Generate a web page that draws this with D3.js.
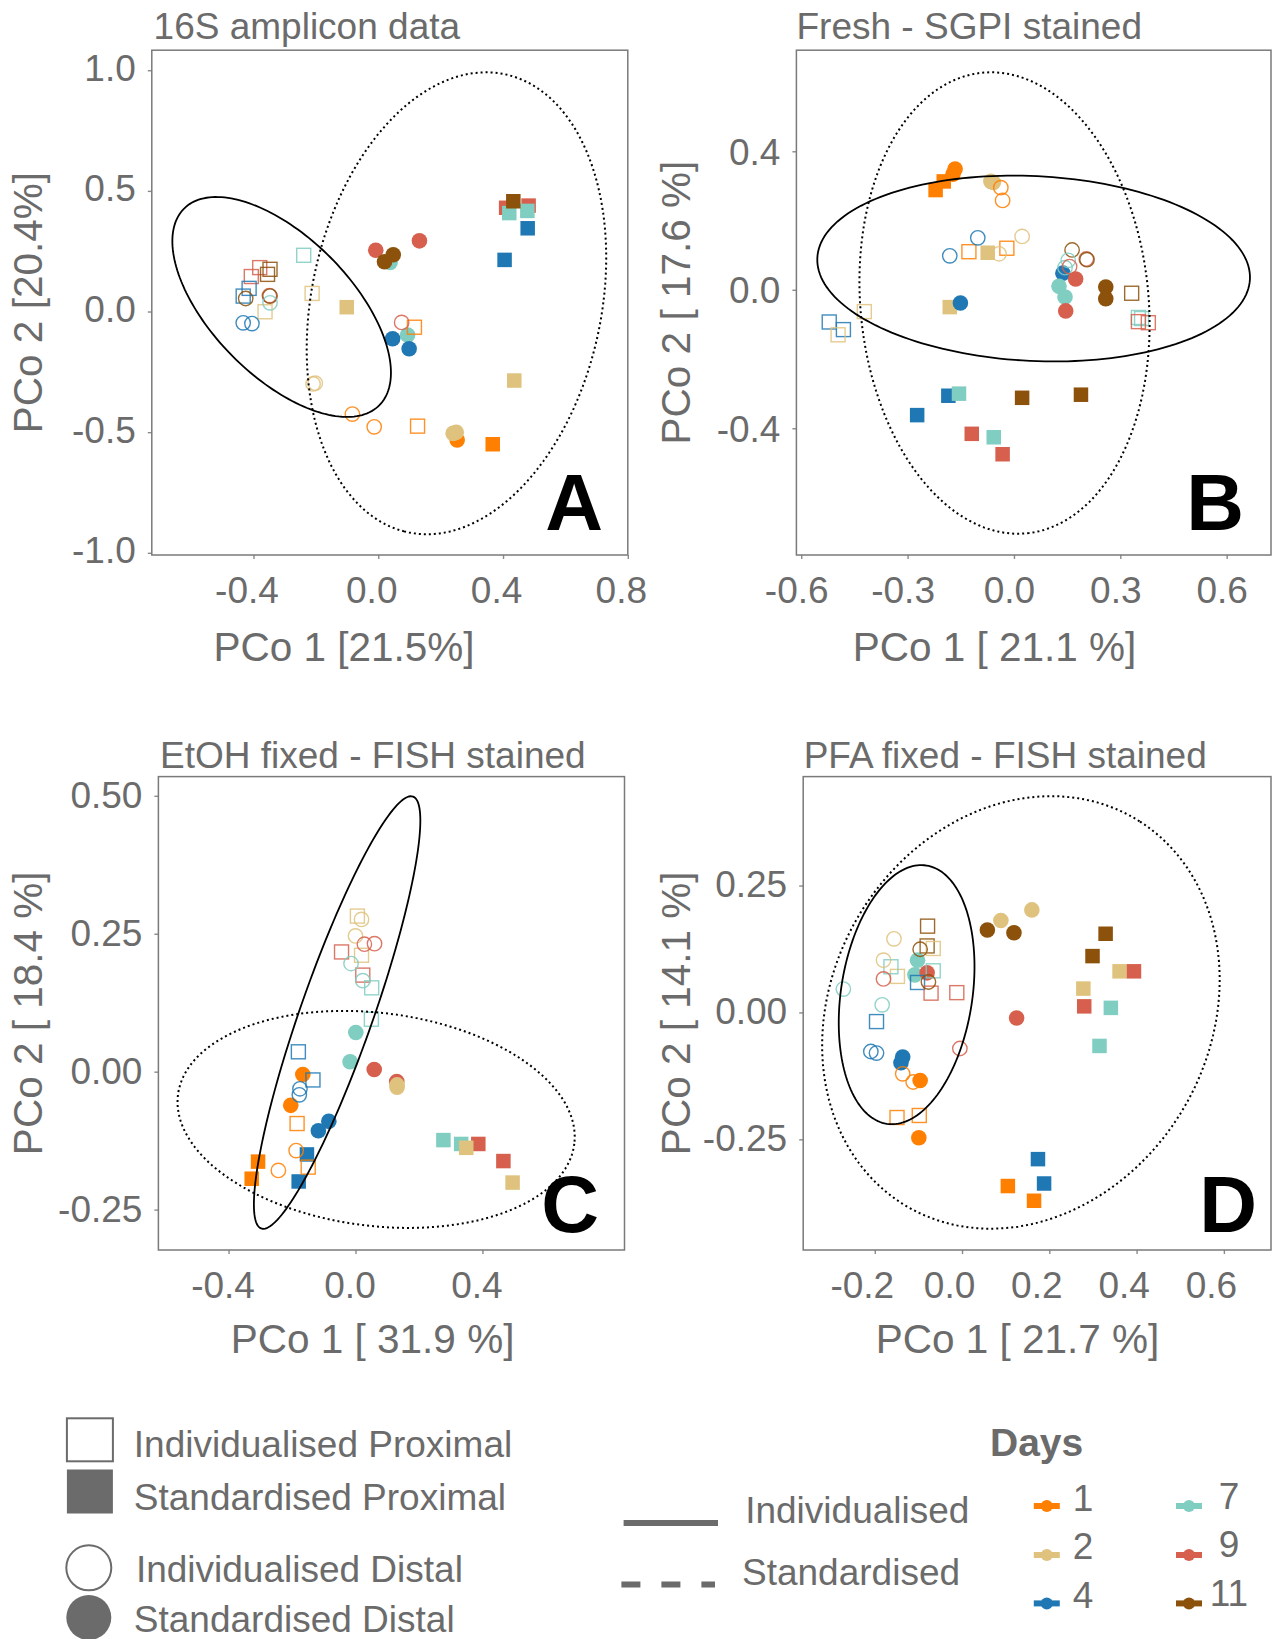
<!DOCTYPE html>
<html>
<head>
<meta charset="utf-8">
<script src="https://cdn.jsdelivr.net/npm/d3@7"></script>
<style>
  body { margin: 0; background: #fff; }
  text { font-family: "Liberation Sans", Arial, sans-serif; }
</style>
</head>
<body>
<script>
// ---------------- DATA ----------------
const days = [1, 2, 4, 7, 9, 11];
const dayColors = ["#FF7F00", "#DFC27D", "#1F78B4", "#80CDC1", "#D6604D", "#8C510A"];

// [PCo1, PCo2, day]
// Panel A - 16S amplicon data
const A_stdProx = [[0.41,0.43,9],[0.482,0.439,9],[0.42,0.408,7],[0.478,0.417,7],[0.433,0.457,11],[0.479,0.345,4],[0.405,0.214,4],[-0.101,0.018,2],[0.436,-0.286,2],[0.367,-0.55,1]];
const A_stdDist = [[-0.008,0.254,9],[0.132,0.293,9],[0.038,0.203,7],[0.020,0.206,11],[0.048,0.235,11],[0.094,-0.097,7],[0.046,-0.113,4],[0.099,-0.154,4],[0.253,-0.532,1],[0.24,-0.505,2],[0.25,-0.5,2]];
const A_indProx = [[-0.239,0.233,7],[-0.380,0.182,9],[-0.407,0.145,9],[-0.347,0.175,11],[-0.355,0.154,11],[-0.414,0.096,4],[-0.433,0.064,4],[-0.363,-0.001,2],[-0.212,0.075,2],[0.116,-0.065,1],[0.126,-0.475,1]];
const A_indDist = [[-0.425,0.054,11],[-0.349,0.066,9],[-0.347,0.064,11],[-0.347,0.036,7],[-0.433,-0.047,4],[-0.405,-0.050,4],[-0.209,-0.300,2],[-0.202,-0.297,2],[-0.083,-0.425,1],[-0.013,-0.478,1],[0.075,-0.045,9]];

// Panel B - Fresh - SGPI stained
const B_stdProx = [[-0.221,0.288,1],[-0.198,0.313,1],[-0.074,0.107,2],[-0.181,-0.05,2],[-0.273,-0.362,4],[-0.185,-0.306,4],[-0.155,-0.300,7],[-0.057,-0.426,7],[-0.119,-0.416,9],[-0.032,-0.475,9],[0.023,-0.312,11],[0.189,-0.303,11]];
const B_stdDist = [[-0.166,0.349,1],[-0.172,0.334,1],[-0.065,0.313,2],[-0.058,0.31,2],[-0.151,-0.038,4],[0.138,0.048,4],[0.127,0.010,7],[0.144,-0.021,7],[0.174,0.031,9],[0.146,-0.061,9],[0.259,0.008,11],[0.259,-0.026,11]];
const B_indProx = [[-0.127,0.11,1],[-0.02,0.12,1],[-0.521,-0.093,4],[-0.481,-0.115,4],[-0.496,-0.13,2],[-0.422,-0.063,2],[0.332,-0.010,11],[0.351,-0.080,7],[0.36,-0.083,7],[0.351,-0.092,9],[0.379,-0.095,9]];
const B_indDist = [[-0.037,0.295,1],[-0.032,0.258,1],[-0.102,0.15,4],[-0.181,0.098,4],[0.023,0.154,2],[-0.042,0.104,2],[0.164,0.115,11],[0.204,0.089,9],[0.206,0.087,11],[0.153,0.085,7],[0.144,0.064,7],[0.157,0.067,9]];

// Panel C - EtOH fixed - FISH stained
const C_stdProx = [[-0.307,-0.163,1],[-0.327,-0.194,1],[-0.153,-0.150,4],[-0.179,-0.199,4],[0.277,-0.124,7],[0.333,-0.131,7],[0.387,-0.131,9],[0.349,-0.138,2],[0.466,-0.162,9],[0.495,-0.201,2]];
const C_stdDist = [[0.001,0.071,7],[-0.017,0.018,7],[0.059,0.004,9],[0.13,-0.018,9],[0.131,-0.024,2],[0.131,-0.028,2],[-0.166,-0.005,1],[-0.204,-0.061,1],[-0.117,-0.107,4],[-0.084,-0.09,4]];
const C_indProx = [[0.006,0.282,2],[0.019,0.211,2],[-0.044,0.217,9],[0.023,0.175,9],[0.051,0.152,7],[0.05,0.095,7],[-0.18,0.036,4],[-0.134,-0.015,4],[-0.184,-0.094,1],[-0.149,-0.173,1]];
const C_indDist = [[0.019,0.276,2],[0,0.246,2],[0.028,0.231,9],[0.06,0.232,9],[-0.014,0.196,7],[0.023,0.165,7],[-0.175,-0.031,4],[-0.177,-0.042,4],[-0.187,-0.143,1],[-0.243,-0.179,1]];

// Panel D - PFA fixed - FISH stained
const D_stdProx = [[0.329,0.155,11],[0.299,0.111,11],[0.361,0.081,2],[0.394,0.081,9],[0.278,0.047,2],[0.28,0.012,9],[0.341,0.009,7],[0.315,-0.066,7],[0.174,-0.289,4],[0.188,-0.337,4],[0.105,-0.342,1],[0.165,-0.371,1]];
const D_stdDist = [[0.058,0.1625,11],[0.089,0.181,2],[0.119,0.157,11],[0.16,0.202,2],[0.125,-0.011,9],[-0.102,0.103,7],[-0.108,0.074,7],[-0.080,0.078,9],[-0.136,-0.088,4],[-0.140,-0.099,4],[-0.096,-0.134,1],[-0.099,-0.247,1]];
const D_indProx = [[-0.079,0.170,11],[-0.080,0.131,11],[-0.066,0.126,2],[-0.148,0.071,2],[-0.163,0.090,7],[-0.066,0.082,7],[-0.102,0.059,4],[-0.071,0.038,9],[-0.012,0.039,9],[-0.196,-0.018,4],[-0.149,-0.207,1],[-0.098,-0.203,1]];
const D_indDist = [[-0.156,0.145,2],[-0.180,0.103,2],[-0.096,0.1245,11],[-0.180,0.066,9],[-0.077,0.060,11],[-0.272,0.046,7],[-0.183,0.015,7],[-0.209,-0.077,4],[-0.196,-0.080,4],[-0.005,-0.071,9],[-0.136,-0.121,1],[-0.112,-0.137,1]];

// Ellipses: [centreX, centreY, u_x, u_y, v_x, v_y] (conjugate semi-axes, data units)
const A_ellInd = [-0.3097, 0.0189, 0.3187, -0.3996, -0.1456, -0.2191];
const A_ellStd = [0.2507, 0.0342, -0.1679, -0.9453, -0.4498, 0.1507];
const B_ellInd = [0.0555, 0.0614, 0.6101, -0.0301, -0.01072, -0.2667];
const B_ellStd = [-0.0266, -0.0382, 0.0694, -0.6644, -0.4033, -0.0517];
const C_ellInd = [-0.0579, 0.1072, 0.239, 0.3914, 0.1079, -0.0218];
const C_ellStd = [0.065, -0.0865, 0.6244, -0.0445, -0.0413, -0.1916];
const D_ellInd = [-0.127, 0.035, 0.0456, 0.2544, 0.1487, -0.0202];
const D_ellStd = [0.1349, 0.0, 0.2729, 0.376, 0.3647, -0.2004];

// Tick labels
const A_xTicks = ["-0.4", "0.0", "0.4", "0.8"];
const A_yTicks = ["-1.0", "-0.5", "0.0", "0.5", "1.0"];
const B_xTicks = ["-0.6", "-0.3", "0.0", "0.3", "0.6"];
const B_yTicks = ["-0.4", "0.0", "0.4"];
const C_xTicks = ["-0.4", "0.0", "0.4"];
const C_yTicks = ["-0.25", "0.00", "0.25", "0.50"];
const D_xTicks = ["-0.2", "0.0", "0.2", "0.4", "0.6"];
const D_yTicks = ["-0.25", "0.00", "0.25"];

const shapeLegend = ["Individualised Proximal", "Standardised Proximal", "Individualised Distal", "Standardised Distal"];
const lineLegend = ["Individualised", "Standardised"];

// ---------------- LAYOUT ----------------
const GREY = "#6b6b6b";
const color = d3.scaleOrdinal().domain(days).range(dayColors);

const panels = [
  { letter: "A", title: "16S amplicon data", xlab: "PCo 1 [21.5%]", ylab: "PCo 2 [20.4%]",
    box: [151.8, 50.2, 627.8, 555], xdom: [-0.726, 0.8], ydom: [-1.009, 1.083],
    xt: A_xTicks, yt: A_yTicks, tickShift: 7, yShift: -3, xlabX: 344, xlabY: 661, ylabX: 42, titleX: 153.6, titleY: 38.7,
    letterPos: [603, 530],
    pts: { sp: A_stdProx, sd: A_stdDist, ip: A_indProx, id: A_indDist }, ell: [A_ellInd, A_ellStd] },
  { letter: "B", title: "Fresh - SGPI stained", xlab: "PCo 1 [ 21.1 %]", ylab: "PCo 2 [ 17.6 %]",
    box: [796.4, 50.2, 1271, 555], xdom: [-0.6136, 0.725], ydom: [-0.766, 0.692],
    xt: B_xTicks, yt: B_yTicks, tickShift: 5, yShift: 0, xlabX: 994.5, xlabY: 661, ylabX: 690, titleX: 796.5, titleY: 38.7,
    letterPos: [1244, 530],
    pts: { sp: B_stdProx, sd: B_stdDist, ip: B_indProx, id: B_indDist }, ell: [B_ellInd, B_ellStd] },
  { letter: "C", title: "EtOH fixed - FISH stained", xlab: "PCo 1 [ 31.9 %]", ylab: "PCo 2 [ 18.4 %]",
    box: [158.4, 776.6, 624.5, 1250], xdom: [-0.621, 0.8476], ydom: [-0.3232, 0.5348],
    xt: C_xTicks, yt: C_yTicks, tickShift: 6, yShift: -1, xlabX: 372.6, xlabY: 1353, ylabX: 42, titleX: 160, titleY: 768,
    letterPos: [599, 1232],
    pts: { sp: C_stdProx, sd: C_stdDist, ip: C_indProx, id: C_indDist }, ell: [C_ellInd, C_ellStd] },
  { letter: "D", title: "PFA fixed - FISH stained", xlab: "PCo 1 [ 21.7 %]", ylab: "PCo 2 [ 14.1 %]",
    box: [803.2, 776.6, 1271, 1250], xdom: [-0.364, 0.708], ydom: [-0.468, 0.4646],
    xt: D_xTicks, yt: D_yTicks, tickShift: 13, yShift: -2, xlabX: 1017.5, xlabY: 1353, ylabX: 690, titleX: 803.7, titleY: 768,
    letterPos: [1257, 1232],
    pts: { sp: D_stdProx, sd: D_stdDist, ip: D_indProx, id: D_indDist }, ell: [D_ellInd, D_ellStd] }
];

const svg = d3.select("body").append("svg")
  .attr("width", 1272).attr("height", 1639)
  .style("display", "block");

svg.append("rect").attr("width", 1272).attr("height", 1639).attr("fill", "#fff");

panels.forEach((p, i) => {
  const [x0, y0, x1, y1] = p.box;
  const x = d3.scaleLinear().domain(p.xdom).range([x0, x1]);
  const y = d3.scaleLinear().domain(p.ydom).range([y1, y0]);
  const g = svg.append("g");

  // clip
  const clipId = "clip" + i;
  svg.append("clipPath").attr("id", clipId).append("rect")
    .attr("x", x0).attr("y", y0).attr("width", x1 - x0).attr("height", y1 - y0);

  // axes
  const xAxis = d3.axisBottom(x).tickValues(p.xt.map(Number)).tickFormat((d, k) => p.xt[k]).tickSize(4);
  const yAxis = d3.axisLeft(y).tickValues(p.yt.map(Number)).tickFormat((d, k) => p.yt[k]).tickSize(4);
  const gx = g.append("g").attr("transform", `translate(0,${y1})`).call(xAxis);
  const gy = g.append("g").attr("transform", `translate(${x0},0)`).call(yAxis);
  [gx, gy].forEach(ax => {
    ax.select(".domain").remove();
    ax.selectAll(".tick line").attr("stroke", "#8a8a8a").attr("stroke-width", 1.4);
    ax.selectAll(".tick text").attr("fill", GREY).style("font-size", "37px")
      .style("font-family", '"Liberation Sans", Arial, sans-serif');
  });
  gx.selectAll(".tick text").attr("y", 48).attr("dy", 0).attr("dx", -p.tickShift);
  gy.selectAll(".tick text").attr("x", -16).attr("y", p.yShift).attr("dy", "0.35em");

  // panel border
  g.append("rect").attr("x", x0).attr("y", y0).attr("width", x1 - x0).attr("height", y1 - y0)
    .attr("fill", "none").attr("stroke", "#7a7a7a").attr("stroke-width", 1.5);

  // points
  const pg = g.append("g").attr("clip-path", `url(#${clipId})`);
  const sq = 14.5;
  pg.selectAll(".sp").data(p.pts.sp).join("rect")
    .attr("x", d => x(d[0]) - sq / 2).attr("y", d => y(d[1]) - sq / 2)
    .attr("width", sq).attr("height", sq).attr("fill", d => color(d[2]));
  pg.selectAll(".sd").data(p.pts.sd).join("circle")
    .attr("cx", d => x(d[0])).attr("cy", d => y(d[1])).attr("r", 7.8)
    .attr("fill", d => color(d[2]));
  pg.selectAll(".ip").data(p.pts.ip).join("rect")
    .attr("x", d => x(d[0]) - 7).attr("y", d => y(d[1]) - 7)
    .attr("width", 14).attr("height", 14).attr("fill", "none")
    .attr("stroke", d => color(d[2])).attr("stroke-width", 1.4).attr("stroke-opacity", 0.85);
  pg.selectAll(".id").data(p.pts.id).join("circle")
    .attr("cx", d => x(d[0])).attr("cy", d => y(d[1])).attr("r", 7.2)
    .attr("fill", "none").attr("stroke", d => color(d[2]))
    .attr("stroke-width", 1.4).attr("stroke-opacity", 0.85);

  // ellipses
  const ellLine = d3.line().x(d => x(d[0])).y(d => y(d[1]));
  const ellPts = e => d3.range(0, 361, 2).map(a => {
    const t = a * Math.PI / 180;
    return [e[0] + e[2] * Math.cos(t) + e[4] * Math.sin(t), e[1] + e[3] * Math.cos(t) + e[5] * Math.sin(t)];
  });
  pg.append("path").attr("d", ellLine(ellPts(p.ell[0])) + "Z")
    .attr("fill", "none").attr("stroke", "#000").attr("stroke-width", 1.8);
  pg.append("path").attr("d", ellLine(ellPts(p.ell[1])) + "Z")
    .attr("fill", "none").attr("stroke", "#000").attr("stroke-width", 2)
    .attr("stroke-dasharray", "2,3");

  // titles
  g.append("text").attr("x", p.titleX).attr("y", p.titleY).attr("fill", GREY)
    .style("font-size", "37px").text(p.title);
  g.append("text").attr("x", p.xlabX).attr("y", p.xlabY).attr("text-anchor", "middle")
    .attr("fill", GREY).style("font-size", "40.5px").text(p.xlab);
  g.append("text").attr("transform", `translate(${p.ylabX},${(y0 + y1) / 2}) rotate(-90)`)
    .attr("text-anchor", "middle").attr("fill", GREY).style("font-size", "40.5px").text(p.ylab);
  g.append("text").attr("x", p.letterPos[0]).attr("y", p.letterPos[1]).attr("text-anchor", "end")
    .attr("fill", "#000").style("font-size", "80px").style("font-weight", "bold").text(p.letter);
});

// ---------------- LEGENDS ----------------
const lg = svg.append("g");
// shape legend
lg.append("rect").attr("x", 66.9).attr("y", 1418.3).attr("width", 46).attr("height", 43)
  .attr("fill", "#fff").attr("stroke", GREY).attr("stroke-width", 2);
lg.append("rect").attr("x", 66.9).attr("y", 1469.5).attr("width", 46).attr("height", 44)
  .attr("fill", GREY);
lg.append("circle").attr("cx", 88.8).attr("cy", 1567.8).attr("r", 22.5)
  .attr("fill", "#fff").attr("stroke", GREY).attr("stroke-width", 2);
lg.append("circle").attr("cx", 88.8).attr("cy", 1617.5).attr("r", 22.5).attr("fill", GREY);
const shapeLabelPos = [[133.8, 1457], [133.8, 1510], [135.9, 1582], [133.8, 1632]];
shapeLegend.forEach((t, k) => {
  lg.append("text").attr("x", shapeLabelPos[k][0]).attr("y", shapeLabelPos[k][1])
    .attr("fill", GREY).style("font-size", "37px").text(t);
});

// line legend
lg.append("line").attr("x1", 623.6).attr("x2", 718).attr("y1", 1523).attr("y2", 1523)
  .attr("stroke", GREY).attr("stroke-width", 6);
lg.append("line").attr("x1", 621.4).attr("x2", 715).attr("y1", 1584.5).attr("y2", 1584.5)
  .attr("stroke", GREY).attr("stroke-width", 6).attr("stroke-dasharray", "19,21");
lg.append("text").attr("x", 745.2).attr("y", 1523).attr("fill", GREY).style("font-size", "37px").text(lineLegend[0]);
lg.append("text").attr("x", 742).attr("y", 1585).attr("fill", GREY).style("font-size", "37px").text(lineLegend[1]);

// days legend
lg.append("text").attr("x", 990).attr("y", 1456).attr("fill", GREY)
  .style("font-size", "39px").style("font-weight", "bold").text("Days");
const colX = [1046.8, 1189];
const labX = [1083, 1229];
const rowY = [1506, 1555, 1603.4];
const rowLab = [1511, 1559, 1608];
days.forEach((d, k) => {
  const c = Math.floor(k / 3), r = k % 3;
  lg.append("line").attr("x1", colX[c] - 13).attr("x2", colX[c] + 13)
    .attr("y1", rowY[r]).attr("y2", rowY[r]).attr("stroke", color(d)).attr("stroke-width", 6);
  lg.append("circle").attr("cx", colX[c]).attr("cy", rowY[r]).attr("r", 6).attr("fill", color(d));
  lg.append("text").attr("x", labX[c]).attr("y", rowLab[r] - (c ? 2 : 0)).attr("text-anchor", "middle")
    .attr("fill", GREY).style("font-size", "37px").text(String(d));
});
</script>
</body>
</html>
